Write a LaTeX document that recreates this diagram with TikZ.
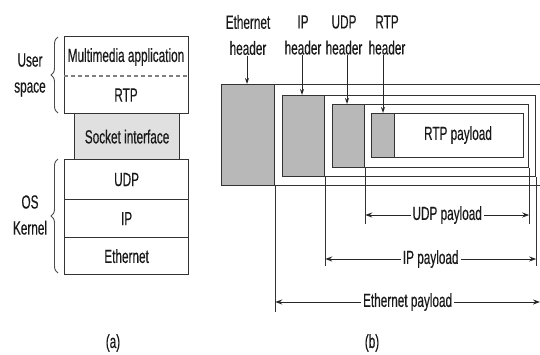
\documentclass[tikz,border=0pt]{standalone}
\usepackage{fontspec}
\setmainfont{Liberation Sans}[FakeStretch=0.62, FakeBold=0.35]
\usetikzlibrary{arrows.meta,decorations.pathreplacing}

\begin{document}
\begin{tikzpicture}[x=1pt,y=-1pt,
  line width=1.2pt,
  every node/.style={font=\fontsize{19}{26}\selectfont, inner sep=0pt, text=black!90},
  layer/.style={draw=black!80, minimum width=124pt, anchor=north west},
  sockbox/.style={layer, fill=black!12, minimum width=105pt, minimum height=46pt},
  frame/.style={draw=black!80, anchor=north west},
  hdrbox/.style={frame, fill=black!28},
  brace/.style={draw=black!70, line width=0.9pt, decorate, decoration={brace, amplitude=7pt}},
  hdrarrow/.style={draw=black!85, line width=1pt, -{Stealth[length=6pt,width=4pt]}},
  guide/.style={draw=black!80, line width=1pt},
  payarrow/.style={draw=black!85, line width=1pt, {Stealth[length=7pt,width=5pt]}-{Stealth[length=7pt,width=5pt]}},
  paylabel/.style={fill=white, inner xsep=2pt, inner ysep=1pt}
]
\useasboundingbox (0,0) rectangle (540,354);

% ---------------- (a) protocol stack ----------------
\node[layer, minimum height=77pt] (user) at (64,36) {};
\node (mma) at (126,57) {Multimedia application};
\node (rtp) at (126,95) {RTP};
\draw[draw=black!50, line width=1.2pt, dash pattern=on 4pt off 3pt]
  (user.west |- 0,76) -- (user.east |- 0,76);
\node[sockbox] (sock) at (74,113) {Socket interface};
\node[layer, minimum height=40pt] (udp) at (64,159) {UDP};
\node[layer, minimum height=38pt] (ip) at (64,199) {IP};
\node[layer, minimum height=37pt] (eth) at (64,237) {Ethernet};

\draw[brace] (58,113) -- (58,37);
\node[align=center] (userlbl) at (30,75) {User\\space};
\draw[brace] (58,273) -- (58,159);
\node[align=center] (oslbl) at (30,215) {OS\\Kernel};

\node (capa) at (113,343) {(a)};

% ---------------- (b) nested encapsulation ----------------
\node[frame, minimum width=325pt, minimum height=101pt] (ethf) at (221,84) {};
\node[hdrbox, minimum width=53pt, minimum height=101pt] (ethh) at (221,84) {};
\node[frame, minimum width=253pt, minimum height=81pt] (ipf) at (282,95) {};
\node[hdrbox, minimum width=42pt, minimum height=81pt] (iph) at (282,95) {};
\node[frame, minimum width=196pt, minimum height=63pt] (udpf) at (332,104) {};
\node[hdrbox, minimum width=32pt, minimum height=63pt] (udph) at (332,104) {};
\node[frame, minimum width=152pt, minimum height=44pt] (rtpf) at (371,113) {};
\node[hdrbox, minimum width=23pt, minimum height=44pt] (rtph) at (371,113) {};
\node (rtppay) at (458,135) {RTP payload};

% header labels and pointers
\node[align=center] (ethl) at (248,35) {Ethernet\\header};
\node[align=center] (ipl) at (303,35) {IP\\header};
\node[align=center] (udpl) at (344,35) {UDP\\header};
\node[align=center] (rtpl) at (387,35) {RTP\\header};
\draw[hdrarrow] ([xshift=-1pt]ethl.south) -- ([xshift=-1pt]ethl.south |- ethf.north);
\draw[hdrarrow] ([xshift=-1pt]ipl.south) -- ([xshift=-1pt]ipl.south |- ipf.north);
\draw[hdrarrow] ([xshift=3pt]udpl.south) -- ([xshift=3pt]udpl.south |- udpf.north);
\draw[hdrarrow] ([xshift=-4pt]rtpl.south) -- ([xshift=-4pt]rtpl.south |- rtpf.north);

% guide lines marking payload extents
\coordinate (ethg) at (ethh.south east |- 0,312);
\coordinate (ipgl) at (iph.south east |- 0,266);
\coordinate (ipgr) at (ipf.south east |- 0,266);
\coordinate (udpgl) at (udph.south east |- 0,224);
\coordinate (udpgr) at (udpf.south east |- 0,224);
\draw[guide] (ethh.south east) -- (ethg);
\draw[guide] (iph.south east) -- (ipgl);
\draw[guide] (ipf.south east) -- (ipgr);
\draw[guide] (udph.south east) -- (udpgl);
\draw[guide] (udpf.south east) -- (udpgr);

% payload dimension arrows
\coordinate (udpa1) at (udph.south east |- 0,215);
\coordinate (udpa2) at (udpf.south east |- 0,215);
\coordinate (ipa1) at (iph.south east |- 0,259);
\coordinate (ipa2) at (ipf.south east |- 0,259);
\coordinate (etha1) at (ethh.south east |- 0,302);
\coordinate (etha2) at (540,302);
\draw[payarrow] (udpa1) -- node[paylabel] (udppl) {UDP payload} (udpa2);
\draw[payarrow] (ipa1) -- node[paylabel] (ippl) {IP payload} (ipa2);
\draw[payarrow] (etha1) -- node[paylabel] (ethpl) {Ethernet payload} (etha2);

\node (capb) at (372,343) {(b)};
\end{tikzpicture}
\end{document}
